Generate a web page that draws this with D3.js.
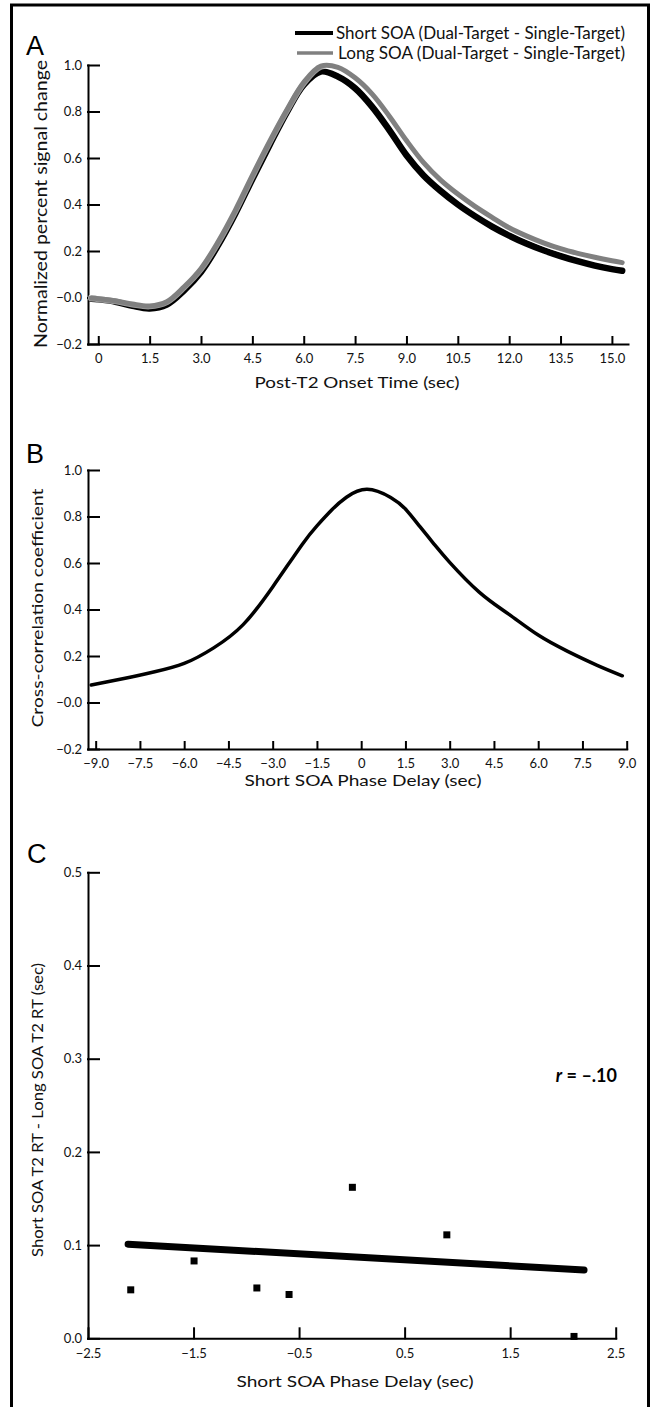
<!DOCTYPE html>
<html>
<head>
<meta charset="utf-8">
<script src="https://cdn.jsdelivr.net/npm/d3@7"></script>
<style>
  body { margin: 0; background: #fff; }
  svg { display: block; font-family: Lato, "Open Sans", sans-serif; }
  .axis path, .axis line { stroke: #000; stroke-width: 2; stroke-linecap: square; }
  .axis text { font-size: 13px; fill: #111; font-family: Lato, sans-serif; }
  .title { font-size: 16px; fill: #111; }
  .panel { font-family: "Liberation Sans", Arial, sans-serif; font-size: 27px; fill: #000; }
</style>
</head>
<body>
<svg width="651" height="1407"></svg>
<script>
// panel A: normalized signal change
const aTime = [-0.2, 0, 0.5, 1, 1.5, 2, 2.5, 3, 3.5, 4, 4.5, 5, 5.5, 6, 6.5, 7, 7.5, 8, 8.5, 9,
  9.5, 10, 10.5, 11, 11.5, 12, 12.5, 13, 13.5, 14, 14.5, 15, 15.3];
const aShort = [-0.005, -0.008, -0.018, -0.036, -0.047, -0.03, 0.03, 0.11, 0.225, 0.36, 0.51, 0.655,
  0.795, 0.915, 0.972, 0.95, 0.9, 0.82, 0.72, 0.612, 0.525, 0.458, 0.4, 0.35, 0.305, 0.266, 0.232,
  0.203, 0.178, 0.156, 0.137, 0.122, 0.115];
const aLong = [-0.002, -0.005, -0.014, -0.028, -0.036, -0.018, 0.045, 0.125, 0.24, 0.375, 0.525, 0.67,
  0.805, 0.925, 0.995, 0.99, 0.945, 0.875, 0.78, 0.675, 0.58, 0.505, 0.445, 0.392, 0.345, 0.3, 0.265,
  0.235, 0.21, 0.19, 0.173, 0.158, 0.15];
const aXTicks = [0, 1.5, 3, 4.5, 6, 7.5, 9, 10.5, 12, 13.5, 15];
const aXLabels = ["0", "1.5", "3.0", "4.5", "6.0", "7.5", "9.0", "10.5", "12.0", "13.5", "15.0"];
const aYTicks = [-0.2, 0, 0.2, 0.4, 0.6, 0.8, 1.0];
const aYLabels = ["\u22120.2", "\u22120.0", "0.2", "0.4", "0.6", "0.8", "1.0"];

// panel B: cross-correlation
const bLag = [-9.15, -8, -7, -6, -5, -4, -3, -2, -1.5, -1, -0.5, 0.2, 1, 1.5, 2, 2.5, 3, 4, 5, 6, 7, 8, 8.85];
const bCorr = [0.075, 0.104, 0.132, 0.168, 0.235, 0.335, 0.497, 0.68, 0.76, 0.828, 0.883, 0.917, 0.882,
  0.832, 0.755, 0.677, 0.603, 0.475, 0.38, 0.29, 0.22, 0.16, 0.115];
const bXTicks = [-9, -7.5, -6, -4.5, -3, -1.5, 0, 1.5, 3, 4.5, 6, 7.5, 9];
const bXLabels = ["\u22129.0", "\u22127.5", "\u22126.0", "\u22124.5", "\u22123.0", "\u22121.5", "0",
  "1.5", "3.0", "4.5", "6.0", "7.5", "9.0"];

// panel C: phase delay vs RT difference
const cDelay = [-2.095, -1.495, -0.9, -0.595, 0.005, 0.9, 2.105];
const cRtDiff = [0.052, 0.083, 0.054, 0.047, 0.162, 0.111, 0.002];
const cFitX = [-2.12, 2.2];
const cFitY = [0.101, 0.0733];
const cXTicks = [-2.5, -1.5, -0.5, 0.5, 1.5, 2.5];
const cXLabels = ["\u22122.5", "\u22121.5", "\u22120.5", "0.5", "1.5", "2.5"];
const cYTicks = [0, 0.1, 0.2, 0.3, 0.4, 0.5];
const cYLabels = ["0.0", "0.1", "0.2", "0.3", "0.4", "0.5"];

const svg = d3.select("svg");
svg.append("rect").attr("width", 651).attr("height", 1407).attr("fill", "#fff");
// frame
svg.append("rect")
  .attr("x", 11.5).attr("y", 5)
  .attr("width", 637).attr("height", 1410)
  .attr("fill", "none").attr("stroke", "#000").attr("stroke-width", 3);

function drawAxes(xScale, yScale, xTicks, xLabels, yTicks, yLabels, xTickLen) {
  const xAxis = d3.axisBottom(xScale)
    .tickValues(xTicks)
    .tickFormat((d, i) => xLabels[i])
    .tickSizeInner(-xTickLen)
    .tickSizeOuter(0)
    .tickPadding(10);
  svg.append("g").attr("class", "axis")
    .attr("transform", `translate(0,${yScale.range()[0]})`)
    .call(xAxis);

  const yAxis = d3.axisLeft(yScale)
    .tickValues(yTicks)
    .tickFormat((d, i) => yLabels[i])
    .tickSizeInner(-11)
    .tickSizeOuter(0)
    .tickPadding(6);
  svg.append("g").attr("class", "axis")
    .attr("transform", `translate(${xScale.range()[0]},0)`)
    .call(yAxis);
}

function xTitle(text, x, y, len) {
  svg.append("text").attr("class", "title")
    .attr("x", x).attr("y", y)
    .attr("text-anchor", "middle")
    .attr("textLength", len).attr("lengthAdjust", "spacingAndGlyphs")
    .text(text);
}

function yTitle(text, x, y, len, size) {
  svg.append("text").attr("class", "title")
    .attr("transform", `translate(${x},${y}) rotate(-90)`)
    .attr("text-anchor", "middle").attr("dy", "0.35em")
    .attr("textLength", len).attr("lengthAdjust", "spacingAndGlyphs")
    .style("font-size", size + "px")
    .text(text);
}

// ---------- A ----------
const xA = d3.scaleLinear().domain([-0.3, 15.47]).range([88, 628]);
const yA = d3.scaleLinear().domain([-0.2, 1.0]).range([344, 65]);
drawAxes(xA, yA, aXTicks, aXLabels, aYTicks, aYLabels, 7);

const lineA = d3.line()
  .x((d) => xA(d[0]))
  .y((d) => yA(d[1]))
  .curve(d3.curveCatmullRom.alpha(0.5));

svg.append("path")
  .datum(d3.zip(aTime, aShort))
  .attr("d", lineA)
  .attr("fill", "none").attr("stroke", "#000")
  .attr("stroke-width", 6.5).attr("stroke-linecap", "round");
svg.append("path")
  .datum(d3.zip(aTime, aLong))
  .attr("d", lineA)
  .attr("fill", "none").attr("stroke", "#fff")
  .attr("stroke-width", 7).attr("stroke-linecap", "round")
  .attr("opacity", 0.6);
svg.append("path")
  .datum(d3.zip(aTime, aLong))
  .attr("d", lineA)
  .attr("fill", "none").attr("stroke", "#808080")
  .attr("stroke-width", 5).attr("stroke-linecap", "round");

// legend
svg.append("line").attr("x1", 295).attr("x2", 333).attr("y1", 33).attr("y2", 33)
  .attr("stroke", "#000").attr("stroke-width", 4);
svg.append("line").attr("x1", 297).attr("x2", 333).attr("y1", 53).attr("y2", 53)
  .attr("stroke", "#808080").attr("stroke-width", 3.5);
svg.append("text").attr("x", 336).attr("y", 38.5)
  .attr("textLength", 289).attr("lengthAdjust", "spacingAndGlyphs")
  .style("font-size", "17px").attr("fill", "#111")
  .text("Short SOA (Dual-Target - Single-Target)");
svg.append("text").attr("x", 338).attr("y", 59)
  .attr("textLength", 287).attr("lengthAdjust", "spacingAndGlyphs")
  .style("font-size", "17px").attr("fill", "#111")
  .text("Long SOA (Dual-Target - Single-Target)");

xTitle("Post-T2 Onset Time (sec)", 357, 388, 205);
yTitle("Normalized percent signal change", 41, 204, 288, 17);
svg.append("text").attr("class", "panel").attr("x", 26).attr("y", 55).text("A");

// ---------- B ----------
const xB = d3.scaleLinear().domain([-9.26, 9]).range([88, 626.7]);
const yB = d3.scaleLinear().domain([-0.2, 1.0]).range([749, 470]);
drawAxes(xB, yB, bXTicks, bXLabels, aYTicks, aYLabels, 7);

const lineB = d3.line()
  .x((d) => xB(d[0]))
  .y((d) => yB(d[1]))
  .curve(d3.curveNatural);
svg.append("path")
  .datum(d3.zip(bLag, bCorr))
  .attr("d", lineB)
  .attr("fill", "none").attr("stroke", "#000")
  .attr("stroke-width", 3.5).attr("stroke-linecap", "round");

xTitle("Short SOA Phase Delay (sec)", 363, 786, 237);
yTitle("Cross-correlation coefficient", 37, 608, 239, 16);
svg.append("text").attr("class", "panel").attr("x", 26).attr("y", 463).text("B");

// ---------- C ----------
const xC = d3.scaleLinear().domain([-2.5, 2.5]).range([88, 615.7]);
const yC = d3.scaleLinear().domain([0, 0.5]).range([1338.3, 872.3]);
drawAxes(xC, yC, cXTicks, cXLabels, cYTicks, cYLabels, 10);

svg.append("line")
  .attr("x1", xC(cFitX[0])).attr("y1", yC(cFitY[0]))
  .attr("x2", xC(cFitX[1])).attr("y2", yC(cFitY[1]))
  .attr("stroke", "#000").attr("stroke-width", 7).attr("stroke-linecap", "round");

svg.append("g")
  .selectAll("rect")
  .data(d3.zip(cDelay, cRtDiff))
  .enter()
  .append("rect")
  .attr("x", (d) => xC(d[0]) - 3.5)
  .attr("y", (d) => yC(d[1]) - 3.5)
  .attr("width", 7).attr("height", 7)
  .attr("fill", "#000");

const rLabel = svg.append("text")
  .attr("x", 617).attr("y", 1082)
  .attr("text-anchor", "end")
  .style("font-size", "18px").style("font-weight", "bold");
rLabel.append("tspan").style("font-style", "italic").text("r");
rLabel.append("tspan").text(" = \u2013.10");

xTitle("Short SOA Phase Delay (sec)", 355, 1387, 237);
yTitle("Short SOA T2 RT - Long SOA T2 RT (sec)", 38, 1110, 294, 15);
svg.append("text").attr("class", "panel").attr("x", 27).attr("y", 863).text("C");
</script>
</body>
</html>
